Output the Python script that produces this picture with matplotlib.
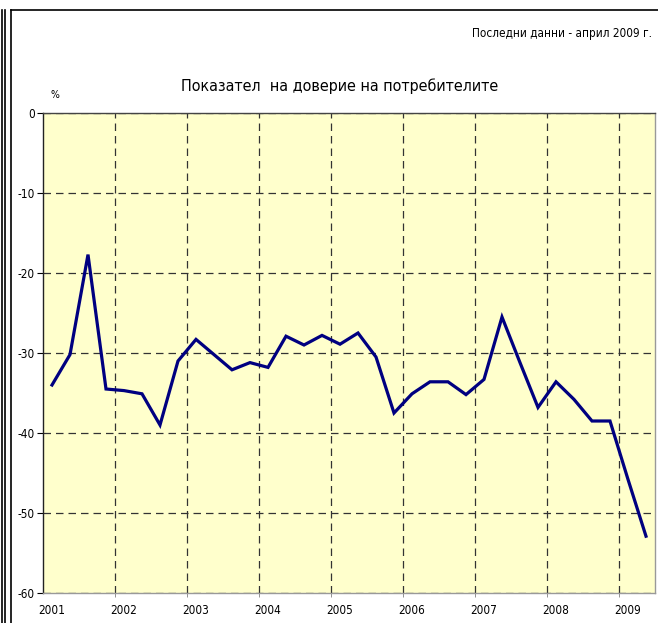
import matplotlib
matplotlib.use("Agg")
import matplotlib.pyplot as plt
from matplotlib.lines import Line2D
import numpy as np

plt.rcParams['font.family'] = ['DejaVu Sans']
plt.rcParams['font.stretch'] = 'condensed'

# quarterly consumer confidence index, 2001 Q1 - 2009 Q2
values = [-34.0, -30.2, -17.7, -34.5,
          -34.7, -35.1, -39.0, -31.0,
          -28.3, -30.2, -32.1, -31.2,
          -31.8, -27.9, -29.0, -27.8,
          -28.9, -27.5, -30.5, -37.5,
          -35.1, -33.6, -33.6, -35.2,
          -33.3, -25.5, -31.2, -36.8,
          -33.6, -35.8, -38.5, -38.5,
          -45.8, -52.9]
years = ["2001", "2002", "2003", "2004", "2005", "2006", "2007", "2008", "2009"]
yticks = [0, -10, -20, -30, -40, -50, -60]

title = "Показател  на доверие на потребителите"
note = "Последни данни - април 2009 г."

fig = plt.figure(figsize=(6.58, 6.23), dpi=100)
W, H = 658, 623
ax = fig.add_axes([43 / W, 1 - 593 / H, 612 / W, 480 / H])
ax.set_facecolor("#FFFFCC")

x = np.arange(len(values))
ax.plot(x, values, color="#000080", lw=2.3, solid_joinstyle="miter", zorder=3)

ax.set_xlim(-0.5, len(values) - 0.5)
ax.set_ylim(-60, 0)

ax.set_xticks(np.arange(0, len(values), 4))
ax.set_xticklabels(years, fontsize=8.5)
ax.set_xticks(np.arange(3.5, len(values), 4), minor=True)
ax.tick_params(axis="x", which="major", length=0, pad=8)
ax.tick_params(axis="x", which="minor", length=3, color="#808080")
ax.set_yticks(yticks)
ax.set_yticklabels([str(v) for v in yticks], fontsize=8.5)
ax.tick_params(axis="y", length=4, pad=2)

ax.grid(True, axis="x", which="minor", color="#333333", ls=(0, (6, 4)), lw=0.9)
ax.grid(True, axis="y", which="major", color="#333333", ls=(0, (6, 4)), lw=0.9)
ax.set_axisbelow(True)

ax.spines["left"].set_color("#222222")
ax.spines["top"].set_color("#444444")
for s in ["bottom", "right"]:
    ax.spines[s].set_color("#999999")
for s in ax.spines.values():
    s.set_linewidth(1.0)

fig.text(340 / W, 1 - 86 / H, title, fontsize=11.5, ha="center", va="center")
fig.text(652 / W, 1 - 33 / H, note, fontsize=8.5, ha="right", va="center")
fig.text(55 / W, 1 - 95 / H, "%", fontsize=7.5, ha="center", va="center")

# page frame lines
fig.add_artist(Line2D([1.5 / W, 1.5 / W], [0, 1 - 10 / H], color="black", lw=1.2))
fig.add_artist(Line2D([4.5 / W, 4.5 / W], [0, 1 - 10 / H], color="black", lw=1.2))
fig.add_artist(Line2D([10.5 / W, 10.5 / W], [0, 1 - 10 / H], color="black", lw=1.2))
fig.add_artist(Line2D([10.5 / W, 1], [1 - 10 / H, 1 - 10 / H], color="black", lw=1.2))

fig.savefig("out.png", dpi=100)
